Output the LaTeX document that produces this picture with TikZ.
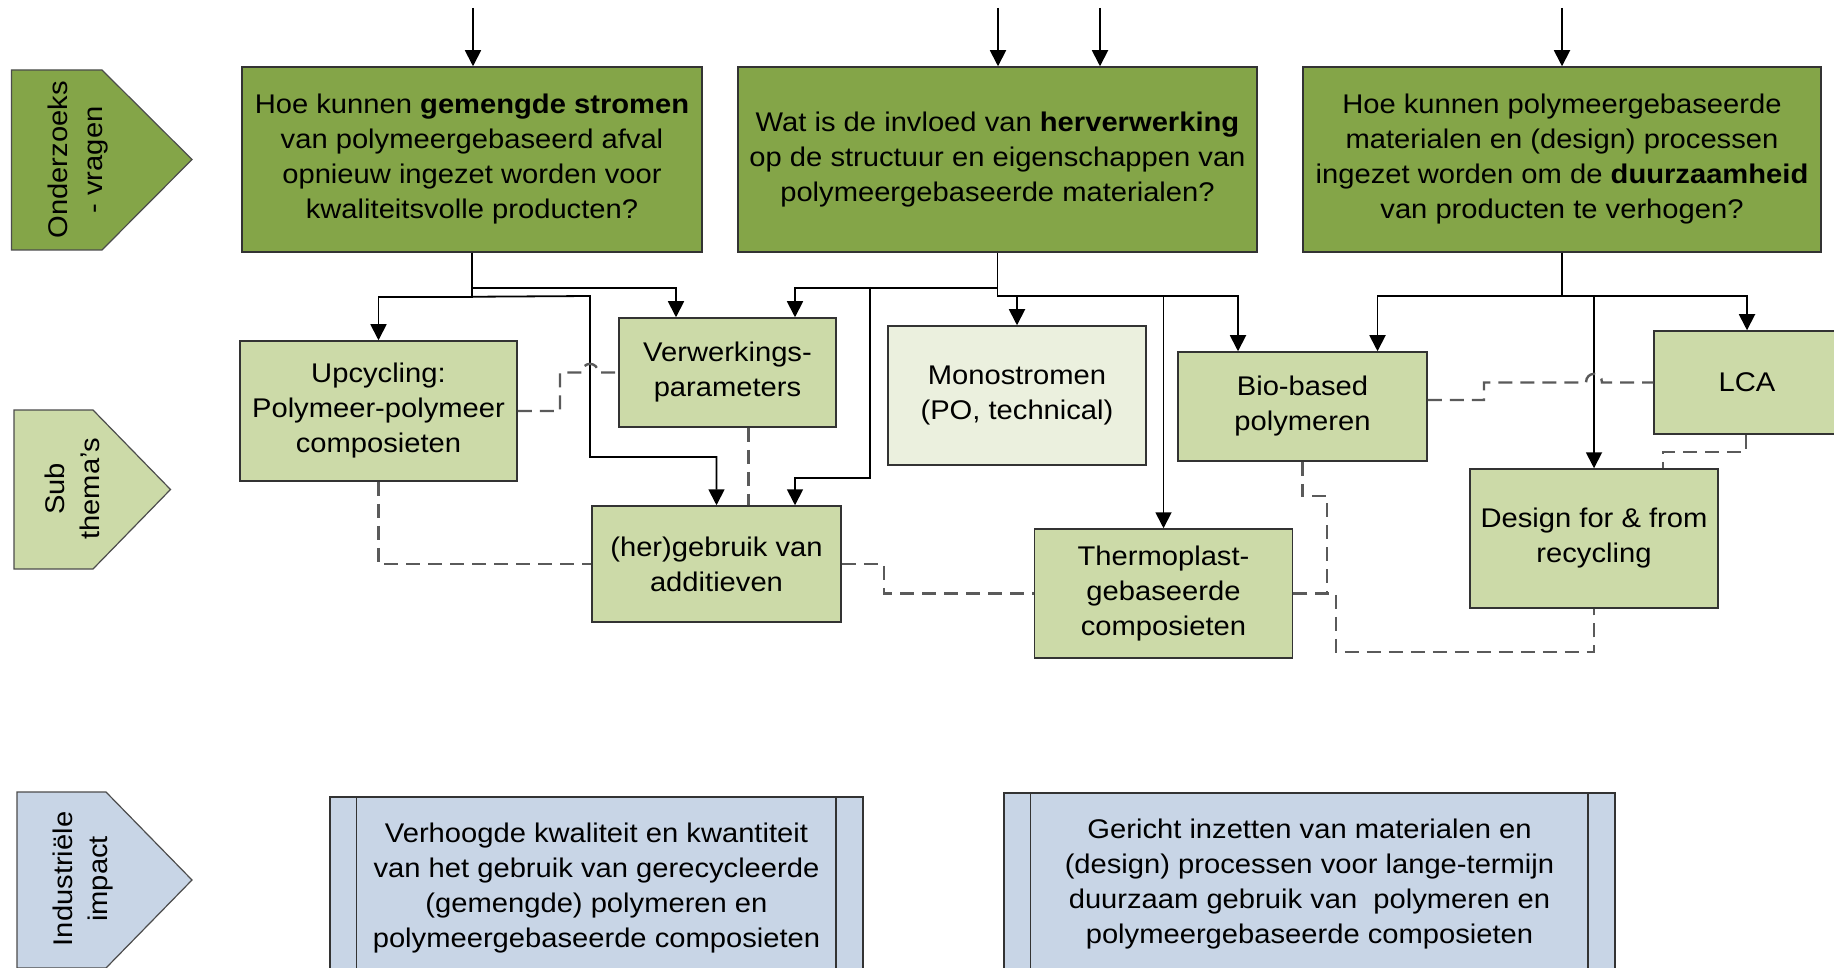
\documentclass[tikz,border=0pt]{standalone}
\usepackage{fontspec}
\setmainfont{Liberation Sans}[FakeStretch=1.08]
\usetikzlibrary{arrows.meta,calc}
\definecolor{dkgreen}{RGB}{132,165,72}
\definecolor{ltgreen}{RGB}{204,218,168}
\definecolor{pale}{RGB}{235,240,222}
\definecolor{ltblue}{RGB}{200,213,230}
\definecolor{dashgray}{RGB}{90,90,90}
\begin{document}
\begin{tikzpicture}[x=1pt,y=-1pt,
  txt/.style={font=\fontsize{27}{35}\selectfont, align=center},
  qbox/.style={txt, draw=black!80, line width=1.5pt, fill=dkgreen, inner sep=0pt, minimum height=185pt},
  sbox/.style={txt, draw=black!80, line width=1.5pt, fill=ltgreen, inner sep=0pt},
  ibox/.style={txt, draw=black!80, line width=1.5pt, fill=ltblue, inner sep=0pt},
  arr/.style={draw=black, line width=1.8pt, -{Triangle[width=16pt,length=16pt]}},
  dsh/.style={draw=dashgray, line width=2.4pt, dash pattern=on 14pt off 8pt},
  pent/.style={draw=black!70, line width=1.2pt}]
\useasboundingbox (0,0) rectangle (1834,968);
\clip (0,0) rectangle (1834,968);
\fill[white] (0,0) rectangle (1834,968);

% row labels
\draw[pent, fill=dkgreen] (11.5,70) -- (102,70) -- (192,159.5) -- (102,250) -- (11.5,250) -- cycle;
\node[txt, rotate=90] (lab1) at (78,160) {Onderzoeks\\- vragen};
\draw[pent, fill=ltgreen] (14,410) -- (93,410) -- (170.5,489.5) -- (93,569) -- (14,569) -- cycle;
\node[txt, rotate=90] (lab2) at (72,489) {Sub\\thema's};
\draw[pent, fill=ltblue] (17,792) -- (106,792) -- (192,880) -- (106,968) -- (17,968) -- cycle;
\node[txt, rotate=90] (lab3) at (83,879) {Industriële\\impact};

% research questions
\node[qbox, minimum width=460pt] (q1) at (472,159.5) {Hoe kunnen \textbf{gemengde stromen}\\van polymeergebaseerd afval\\opnieuw ingezet worden voor\\kwaliteitsvolle producten?};
\node[qbox, minimum width=519pt] (q2) at (997.5,159.5) {Wat is de invloed van \textbf{herverwerking}\\op de structuur en eigenschappen van\\polymeergebaseerde materialen?};
\node[qbox, minimum width=518pt] (q3) at (1562,159.5) {Hoe kunnen polymeergebaseerde\\materialen en (design) processen\\ingezet worden om de \textbf{duurzaamheid}\\van producten te verhogen?};

% sub themes
\node[sbox, minimum width=277pt, minimum height=140pt] (up) at (378.5,411) {Upcycling:\\Polymeer-polymeer\\composieten};
\node[sbox, minimum width=217pt, minimum height=109pt] (vp) at (727.5,372.5) {Verwerkings-\\parameters};
\node[sbox, minimum width=249pt, minimum height=116pt] (hg) at (716.5,564) {(her)gebruik van\\additieven};
\node[sbox, fill=pale, minimum width=258pt, minimum height=139pt] (mono) at (1017,395.5) {Monostromen\\(PO, technical)};
\node[sbox, minimum width=249pt, minimum height=109pt] (bio) at (1302.5,406.5) {Bio-based\\polymeren};
\node[sbox, minimum width=258pt, minimum height=129pt] (thermo) at (1163.5,593.5) {Thermoplast-\\gebaseerde\\composieten};
\node[sbox, minimum width=248pt, minimum height=139pt] (design) at (1594,538.5) {Design for \& from\\recycling};
\node[sbox, minimum width=186pt, minimum height=103pt] (lca) at (1747,382.5) {LCA};

% impact
\node[ibox, minimum width=533pt, minimum height=183pt] (imp1) at (596.5,888.5) {Verhoogde kwaliteit en kwantiteit\\van het gebruik van gerecycleerde\\(gemengde) polymeren en\\polymeergebaseerde composieten};
\draw[line width=1.5pt, draw=black!80] ([xshift=27pt]imp1.north west) -- ([xshift=27pt]imp1.south west)
  ([xshift=-28pt]imp1.north east) -- ([xshift=-28pt]imp1.south east);
\node[ibox, minimum width=611pt, minimum height=183pt] (imp2) at (1309.5,884.5) {Gericht inzetten van materialen en\\(design) processen voor lange-termijn\\duurzaam gebruik van\ \ polymeren en\\polymeergebaseerde composieten};
\draw[line width=1.5pt, draw=black!80] ([xshift=27pt]imp2.north west) -- ([xshift=27pt]imp2.south west)
  ([xshift=-28pt]imp2.north east) -- ([xshift=-28pt]imp2.south east);

% incoming arrows
\coordinate (t1) at (473,8);
\coordinate (t2) at (998,8);
\coordinate (t3) at (1100,8);
\coordinate (t4) at (1562,8);
\draw[arr] (t1) -- (t1 |- q1.north);
\draw[arr] (t2) -- (t2 |- q2.north);
\draw[arr] (t3) -- (t3 |- q2.north);
\draw[arr] (t4) -- (t4 |- q3.north);

% from q1
\draw[arr] (q1.south) -- ++(0,35) -| ([xshift=-51.5pt]vp.north);
\coordinate (b1) at ($(q1.south)+(0,44)$);
\draw[arr] (q1.south) -- (b1) -| (up.north);
\draw[arr] (b1) -- (590,296) -- (590,457) -| (hg.north);

% from q2
\coordinate (b2) at ($(q2.south)+(0,35)$);
\coordinate (j2) at (870,287);
\draw[arr] (q2.south) -- (b2) -| ([xshift=67.5pt]vp.north);
\draw[arr] (j2) -- (870,478) -| ([xshift=78.5pt]hg.north);
\coordinate (b3) at ($(q2.south)+(0,43)$);
\draw[arr] (b2) -- (b3) -| ([xshift=-64.5pt]bio.north);
\draw[arr] (b3 -| mono.north) -- (mono.north);
\draw[arr] (b3 -| thermo.north) -- (thermo.north);

% from q3
\coordinate (b4) at ($(q3.south)+(0,43)$);
\draw[arr] (q3.south) -- (b4) -| ([xshift=75pt]bio.north);
\draw[arr] (b4) -| (lca.north);
\draw[arr] (b4 -| design.north) -- (design.north);

% dashed relations
\draw[dsh] (up.east) -- (560,411) -- (560,372.5) -- (582,372.5) .. controls (582,361) and (598,361) .. (598,372.5) -- (vp.west);
\draw[dsh] (up.south) |- (hg.west);
\draw[dsh] ([xshift=21pt]vp.south) -- ([xshift=21pt]vp.south |- hg.north);
\draw[dsh] (hg.east) -- (884,564) |- (thermo.west);
\draw[dsh] (bio.south) -- (1302.5,496) -- (1327,496) |- (thermo.east);
\draw[dsh] (thermo.east) -- (1336,593.5) -- (1336,652) -| (design.south);
\draw[dsh] ($(bio.east)+(0,-6.5)$) -- (1484,400) -- (1484,382.5) -- (1586,382.5) .. controls (1586,371) and (1602,371) .. (1602,382.5) -- (lca.west);
\draw[dsh] ([xshift=-1pt]lca.south) -- (1746,451.7) -| ([xshift=69pt]design.north);
\end{tikzpicture}
\end{document}
